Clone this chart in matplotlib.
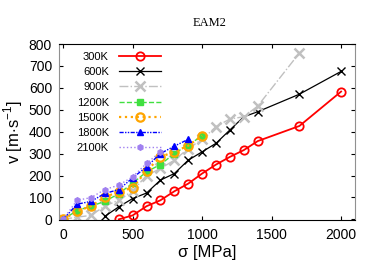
import numpy as np
import matplotlib.pyplot as plt

plt.rcParams['font.family'] = ['Liberation Sans', 'DejaVu Sans']
plt.rcParams['mathtext.fontset'] = 'custom'
plt.rcParams['mathtext.rm'] = 'Liberation Sans'

## stress [MPa] and velocity [m/s] for each temperature
s_300 = [400, 500, 600, 700, 800, 900, 1000, 1100, 1200, 1300, 1400, 1700, 2000]
v_300 = [0, 18, 60, 87, 128, 163, 209, 250, 285, 316, 357, 426, 583]
s_600 = [300, 400, 500, 600, 700, 800, 900, 1000, 1100, 1200, 1300, 1400, 1700, 2000]
v_600 = [14, 57, 95, 120, 179, 209, 270, 308, 347, 408, 468, 491, 571, 675]
s_900 = [0, 100, 200, 300, 400, 500, 600, 700, 800, 900, 1000, 1100, 1200, 1300, 1400, 1700]
v_900 = [0, 10, 18, 61, 87, 130, 200, 232, 270, 323, 365, 423, 458, 468, 517, 759]
s_1200 = [0, 100, 200, 300, 400, 500, 600, 700, 800, 900, 1000]
v_1200 = [0, 40, 60, 82, 117, 165, 217, 250, 300, 340, 380]
s_1500 = [0, 100, 200, 300, 400, 500, 600, 700, 800, 900, 1000]
v_1500 = [0, 37, 60, 102, 125, 145, 221, 285, 308, 336, 382]
s_1800 = [0, 100, 200, 300, 400, 500, 600, 700, 800, 900]
v_1800 = [0, 69, 82, 118, 136, 189, 240, 300, 334, 365]
s_2100 = [0, 100, 200, 300, 400, 500, 600, 700]
v_2100 = [0, 87, 99, 136, 156, 194, 255, 308]

fig = plt.figure(figsize=(3.82, 2.67), dpi=100)
ax = fig.add_axes([59/382, 1 - 220/267, 296/382, 176/267])

ax.plot(s_300, v_300, '-', color='red', lw=1.3, marker='o', ms=6, mfc='none', mew=1.3, label='300K')
ax.plot(s_600, v_600, '-', color='black', lw=0.9, marker='x', ms=6, mew=1.0, label='600K')
ax.plot(s_900, v_900, '-.', color='#c0c0c0', lw=1.0, marker='x', ms=7, mew=1.8, label='900K')
ax.plot(s_1200, v_1200, '--', color='#40e040', lw=1.0, marker='s', ms=4, label='1200K')
ax.plot(s_1500, v_1500, ':', color='#ffa500', lw=1.6, marker='o', ms=6, mfc='none', mew=1.6, label='1500K')
ax.plot(s_1800, v_1800, color='blue', lw=1.0, ls=(0, (3, 1, 1, 1, 1, 1)), marker='^', ms=5, label='1800K')
ax.plot(s_2100, v_2100, ':', color='#a080f0', lw=1.0, marker='h', ms=4, label='2100K')

ax.set_xlim(-30, 2100)
ax.set_ylim(-3, 800)
ax.set_xticks(np.arange(0, 2001, 500))
ax.set_yticks(np.arange(0, 801, 100))
ax.tick_params(direction='in', top=True, right=True, length=3, labelsize=10)
ax.tick_params(axis='x', pad=6)
ax.tick_params(axis='y', pad=5)
for side in ['left', 'right']:
    ax.spines[side].set_color('#909090')

ax.set_xlabel('σ [MPa]', fontsize=12, labelpad=2)
ax.set_ylabel('v [m$\\cdot$s$^{-1}$]', fontsize=12, labelpad=3)
fig.text(210/382, 1 - 23/267, 'EAM2', family='Liberation Serif', fontsize=9, ha='center', va='center')

ax.legend(loc='upper right', bbox_to_anchor=(0.345, 0.955), frameon=False, markerfirst=False,
          fontsize=8, handlelength=3.8, handletextpad=0.9, labelspacing=0.47,
          borderpad=0, borderaxespad=0)

fig.savefig('out.png', dpi=100)
